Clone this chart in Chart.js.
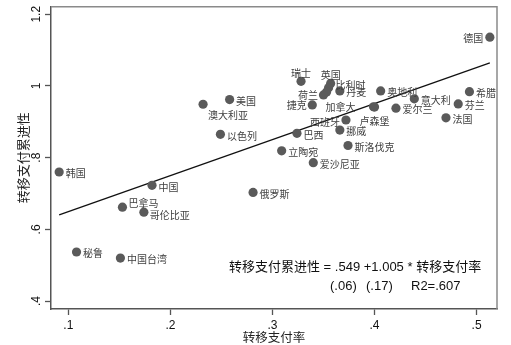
<!DOCTYPE html>
<html>
<head>
<meta charset="utf-8">
<script src="https://cdn.jsdelivr.net/npm/chart.js@4.4.1/dist/chart.umd.min.js"></script>
<style>
  html, body { margin: 0; padding: 0; background: #fff; }
  #wrap { width: 511px; height: 345px; }
</style>
</head>
<body>
<div id="wrap"><canvas id="c" width="511" height="345"></canvas></div>
<script>
// Countries / economies, transfer rate (x) and cumulative transfer progressivity (y)
const countries = [
  '韩国', '澳大利亚', '美国', '以色列', '德国', '瑞士', '英国', '比利时', '', '荷兰',
  '丹麦', '捷克', '加拿大', '奥地利', '意大利', '爱尔兰', '希腊', '芬兰', '法国', '西班牙',
  '卢森堡', '挪威', '巴西', '斯洛伐克', '立陶宛', '爱沙尼亚', '俄罗斯', '中国', '巴拿马', '哥伦比亚',
  '秘鲁', '中国台湾'
];
const transferRate = [
  0.091, 0.232, 0.258, 0.249, 0.513, 0.328, 0.357, 0.355, 0.353, 0.350,
  0.366, 0.339, 0.399, 0.406, 0.439, 0.421, 0.493, 0.482, 0.470, 0.372,
  0.400, 0.366, 0.324, 0.374, 0.309, 0.340, 0.281, 0.182, 0.153, 0.174,
  0.108, 0.151
];
const progressivity = [
  0.760, 0.949, 0.962, 0.865, 1.136, 1.013, 1.007, 0.995, 0.983, 0.975,
  0.986, 0.947, 0.942, 0.986, 0.964, 0.938, 0.984, 0.950, 0.911, 0.905,
  0.941, 0.877, 0.868, 0.834, 0.819, 0.786, 0.703, 0.723, 0.662, 0.648,
  0.537, 0.520
];
const xTicks = [0.1, 0.2, 0.3, 0.4, 0.5];
const yTicks = [0.4, 0.6, 0.8, 1.0, 1.2];
const xTitle = '转移支付率';
const yTitle = '转移支付累进性';

// OLS fit stated in the note
const intercept = 0.549;
const slope = 1.005;
const fitLine1 = '转移支付累进性 = .549 +1.005 * 转移支付率';
const fitLine2 = ['(.06)', '(.17)', 'R2=.607'];

// label placement: [textAlign, dx, dy]
const defaultPlace = ['left', 6.5, 1.5];
const labelPlace = {
  '德国': ['right', -6.5, 1.5],
  '荷兰': ['right', -5.5, 0.5],
  '捷克': ['right', -5.5, 0.5],
  '西班牙': ['right', -6, 2],
  '加拿大': ['right', -18, 0],
  '瑞士': ['center', 0, -8],
  '英国': ['center', 0, -8],
  '澳大利亚': ['left', 5, 10.5],
  '卢森堡': ['center', 0, 14],
  '比利时': ['left', 7, -3],
  '巴拿马': ['left', 6, -4],
  '哥伦比亚': ['left', 6, 3]
};

const points = transferRate.map((x, i) => ({ x: x, y: progressivity[i] }));
const xMinData = Math.min(...transferRate);
const xMaxData = Math.max(...transferRate);
const fitPoints = [
  { x: xMinData, y: intercept + slope * xMinData },
  { x: xMaxData, y: intercept + slope * xMaxData }
];

const fmt = v => {
  const s = (Math.round(v * 10) / 10).toString();
  return s.replace(/^0\./, '.');
};

const CJK = '"Noto Sans CJK SC", sans-serif';
const LAT = '"Liberation Sans", Arial, sans-serif';

const pointLabels = {
  id: 'pointLabels',
  afterDatasetsDraw(chart) {
    const ctx = chart.ctx;
    const meta = chart.getDatasetMeta(0);
    ctx.save();
    ctx.font = '10px ' + CJK;
    ctx.fillStyle = '#404040';
    ctx.textBaseline = 'middle';
    meta.data.forEach((el, i) => {
      const name = countries[i];
      if (!name) return;
      const p = labelPlace[name] || defaultPlace;
      ctx.textAlign = p[0];
      ctx.fillText(name, el.x + p[1], el.y + p[2]);
    });
    ctx.restore();
  }
};

const frame = {
  id: 'frame',
  beforeDatasetsDraw(chart) {
    const { ctx, chartArea: a } = chart;
    ctx.save();
    ctx.strokeStyle = '#8a8a8a';
    ctx.lineWidth = 1.5;
    ctx.beginPath();
    ctx.moveTo(a.left, a.top);
    ctx.lineTo(a.right, a.top);
    ctx.lineTo(a.right, a.bottom);
    ctx.stroke();
    ctx.restore();
  }
};

// vertical axis title, centred on the plot area
const yAxisTitle = {
  id: 'yAxisTitle',
  afterDraw(chart) {
    const { ctx, chartArea: a } = chart;
    ctx.save();
    ctx.translate(23.5, (a.top + a.bottom) / 2);
    ctx.rotate(-Math.PI / 2);
    ctx.font = '13px ' + CJK;
    ctx.fillStyle = '#222';
    ctx.textAlign = 'center';
    ctx.textBaseline = 'middle';
    ctx.fillText(yTitle, 0, 0);
    ctx.restore();
  }
};

const fitNote = {
  id: 'fitNote',
  afterDraw(chart) {
    const ctx = chart.ctx;
    ctx.save();
    ctx.fillStyle = '#111';
    ctx.textBaseline = 'middle';
    ctx.textAlign = 'left';
    ctx.font = '13px ' + LAT + ', ' + CJK;
    ctx.fillText(fitLine1, 229, 267);
    const xs = [330, 366, 411];
    fitLine2.forEach((t, i) => ctx.fillText(t, xs[i], 286));
    ctx.restore();
  }
};

new Chart(document.getElementById('c'), {
  type: 'scatter',
  data: {
    datasets: [
      {
        data: points,
        backgroundColor: '#5a5a5a',
        borderWidth: 0,
        pointRadius: 4.6,
        pointHoverRadius: 4.6
      },
      {
        type: 'line',
        data: fitPoints,
        borderColor: '#111',
        borderWidth: 1.3,
        pointRadius: 0,
        fill: false
      }
    ]
  },
  options: {
    responsive: false,
    animation: false,
    devicePixelRatio: 1,
    layout: { padding: { top: 3, right: 14, left: 0, bottom: 0 } },
    plugins: { legend: { display: false }, tooltip: { enabled: false } },
    scales: {
      x: {
        type: 'linear',
        min: 0.083,
        max: 0.52,
        afterBuildTicks: s => { s.ticks = xTicks.map(v => ({ value: v })); },
        afterFit: s => { s.height = 36; },
        ticks: { callback: v => fmt(v), font: { family: LAT, size: 12 }, color: '#111', padding: 3, maxRotation: 0 },
        grid: { drawOnChartArea: false, tickLength: 6, color: '#555', tickWidth: 1.3 },
        border: { display: true, color: '#555', width: 1.5 },
        title: { display: true, text: xTitle, font: { family: CJK, size: 12.5 }, color: '#222', padding: { top: 0, bottom: 0 } }
      },
      y: {
        type: 'linear',
        min: 0.378,
        max: 1.221,
        afterBuildTicks: s => { s.ticks = yTicks.map(v => ({ value: v })); },
        afterFit: s => { s.width = 51; },
        ticks: { callback: v => fmt(v), font: { family: LAT, size: 12 }, color: '#111', padding: -0.5, minRotation: 90, maxRotation: 90, crossAlign: 'center' },
        grid: { drawOnChartArea: false, tickLength: 6, color: '#555', tickWidth: 1.3 },
        border: { display: true, color: '#555', width: 1.5 },
        title: { display: false }
      }
    }
  },
  plugins: [frame, pointLabels, yAxisTitle, fitNote]
});
</script>
</body>
</html>
